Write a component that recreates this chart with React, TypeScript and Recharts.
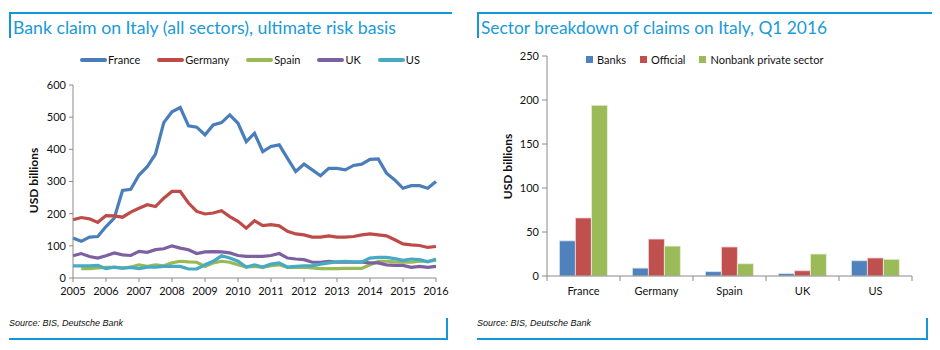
import { Bar, BarChart, Legend, Line, LineChart, XAxis, YAxis } from "recharts";

// quarterly, 2005 Q1 .. 2016 Q1
const years = [2005, 2006, 2007, 2008, 2009, 2010, 2011, 2012, 2013, 2014, 2015, 2016];
const quarters = years.flatMap((y) => (y === 2016 ? [`${y} Q1`] : [1, 2, 3, 4].map((q) => `${y} Q${q}`)));

const france = [
  124, 114, 127, 129, 160, 186, 272, 276, 320, 346, 385, 483, 517, 530, 473, 469,
  445, 476, 483, 507, 481, 424, 450, 393, 409, 414, 372, 331, 354, 336, 318, 341,
  341, 336, 350, 354, 369, 370, 326, 305, 279, 287, 287, 279, 300,
];
const germany = [
  181, 188, 184, 173, 194, 193, 189, 205, 217, 228, 222, 248, 269, 269, 233, 207,
  199, 202, 209, 191, 176, 155, 178, 163, 166, 162, 145, 137, 134, 127, 127, 131,
  127, 127, 129, 134, 137, 134, 131, 119, 106, 103, 101, 95, 98,
];
const spain = [
  null, 29, 29, 31, 33, 33, 31, 34, 41, 36, 41, 38, 47, 52, 50, 49,
  36, 47, 52, 49, 41, 34, 36, 33, 38, 41, 33, 33, 34, 31, 29, 29,
  29, 30, 30, 30, 41, 52, 52, 50, 49, 49, 52, 52, 55,
];
const uk = [
  69, 76, 67, 62, 69, 78, 72, 70, 83, 80, 88, 91, 100, 93, 88, 76,
  81, 82, 81, 78, 70, 67, 67, 67, 70, 76, 62, 59, 57, 49, 49, 52,
  49, 49, 49, 49, 47, 47, 41, 39, 39, 33, 36, 33, 36,
];
const us = [
  38, 38, 38, 39, 29, 34, 31, 33, 29, 34, 34, 36, 36, 36, 28, 28,
  41, 52, 69, 62, 52, 34, 41, 34, 43, 47, 34, 36, 38, 38, 43, 47,
  50, 52, 50, 50, 62, 64, 64, 60, 55, 59, 57, 50, 59,
];
const claimTicks = [0, 100, 200, 300, 400, 500, 600];

const countries = ["France", "Germany", "Spain", "UK", "US"];
const sectors = ["Banks", "Official", "Nonbank private sector"];
const banks = [40, 9, 5, 2.7, 17.4];
const official = [66, 42, 33, 6, 20.5];
const nonbank = [194, 34, 14, 25, 19];
const sectorTicks = [0, 50, 100, 150, 200, 250];

const lineData = quarters.map((q, i) => ({
  q,
  France: france[i],
  Germany: germany[i],
  Spain: spain[i],
  UK: uk[i],
  US: us[i],
}));

const barData = countries.map((c, i) => ({
  c,
  Banks: banks[i],
  Official: official[i],
  "Nonbank private sector": nonbank[i],
}));

const BLUE = "#1497d6";
const FONT = "Lato, 'Open Sans', sans-serif";
const tickStyle = { fontSize: 11, fill: "#111", fontFamily: FONT };
const axisGrey = "#8a8a8a";

function Frame({ left, width, title, titleWidth }: { left: number; width: number; title: string; titleWidth: number }) {
  return (
    <>
      <div style={{ position: "absolute", left, top: 12, width, height: 2, background: BLUE }} />
      <div style={{ position: "absolute", left, top: 12, width: 2, height: 26, background: BLUE }} />
      <svg style={{ position: "absolute", left: left + 4, top: 16, overflow: "visible" }} width={width - 10} height={24}>
        <text
          x={0}
          y={18}
          textLength={titleWidth}
          lengthAdjust="spacingAndGlyphs"
          fontSize={18}
          fontFamily={FONT}
          fill="#1a9ad8"
        >
          {title}
        </text>
      </svg>
      <div
        style={{
          position: "absolute",
          left,
          top: 318,
          fontSize: 9,
          fontStyle: "italic",
          fontFamily: "'Liberation Sans', Arial, sans-serif",
          color: "#111",
        }}
      >
        Source: BIS, Deutsche Bank
      </div>
      <div style={{ position: "absolute", left, top: 338, width: width - 4, height: 2, background: BLUE }} />
      <div style={{ position: "absolute", left: left + width - 6, top: 318, width: 2, height: 22, background: BLUE }} />
    </>
  );
}

function YLabel({ x, y }: { x: number; y: number }) {
  return (
    <div
      style={{
        position: "absolute",
        left: x - 40,
        top: y - 8,
        width: 80,
        textAlign: "center",
        transform: "rotate(-90deg)",
        fontSize: 12,
        fontWeight: 700,
        fontFamily: FONT,
        color: "#111",
      }}
    >
      USD billions
    </div>
  );
}

const lineLegend = (props: any) => (
  <div style={{ display: "flex", fontFamily: FONT, fontSize: 11, color: "#111" }}>
    {props.payload.map((p: any) => (
      <div key={p.value} style={{ display: "flex", alignItems: "center", marginRight: 17 }}>
        <span style={{ width: 27, height: 4, background: p.color, display: "inline-block", borderRadius: 2 }} />
        <span style={{ marginLeft: 1 }}>{p.value}</span>
      </div>
    ))}
  </div>
);

const barLegend = (props: any) => {
  const items = [...props.payload].sort((a: any, b: any) => sectors.indexOf(a.value) - sectors.indexOf(b.value));
  return (
    <div style={{ display: "flex", fontFamily: FONT, fontSize: 11, color: "#111" }}>
      {items.map((p: any) => (
        <div key={p.value} style={{ display: "flex", alignItems: "center", marginRight: 14 }}>
          <span style={{ width: 7, height: 7, background: p.color, display: "inline-block" }} />
          <span style={{ marginLeft: 4 }}>{p.value}</span>
        </div>
      ))}
    </div>
  );
};

// category label plus tick marks on the category boundaries
const CountryTick = (props: any) => {
  const { x, y, payload, index, visibleTicksCount } = props;
  const half = payload.offset ?? 0;
  const axisY = y - 10;
  return (
    <g>
      <line x1={x - half} x2={x - half} y1={axisY} y2={axisY + 5} stroke={axisGrey} />
      {index === visibleTicksCount - 1 && (
        <line x1={x + half} x2={x + half} y1={axisY} y2={axisY + 5} stroke={axisGrey} />
      )}
      <text x={x} y={y + 1} dy="0.71em" textAnchor="middle" fontSize={11} fontFamily={FONT} fill="#111">
        {payload.value}
      </text>
    </g>
  );
};

export default function App() {
  return (
    <div style={{ position: "absolute", left: 0, top: 0, width: 940, height: 350, background: "#fff" }}>
      <Frame left={9} width={443} titleWidth={383} title="Bank claim on Italy (all sectors), ultimate risk basis" />
      <Frame left={477} width={455} titleWidth={346} title="Sector breakdown of claims on Italy, Q1 2016" />

      <div style={{ position: "absolute", left: 0, top: 0 }}>
        <LineChart width={460} height={310} data={lineData} margin={{ top: 85, right: 24, bottom: 12, left: 13 }}>
          <XAxis
            dataKey="q"
            interval={3}
            tickFormatter={(v: string) => v.slice(0, 4)}
            tick={tickStyle}
            tickSize={4}
            tickMargin={5}
            height={20}
            stroke={axisGrey}
          />
          <YAxis
            domain={[0, 600]}
            ticks={claimTicks}
            tick={tickStyle}
            tickSize={4}
            tickMargin={3}
            width={60}
            stroke={axisGrey}
          />
          <Legend
            verticalAlign="middle"
            align="center"
            content={lineLegend}
            wrapperStyle={{ top: 53, left: 80, width: "auto" }}
          />
          <Line dataKey="France" stroke="#4a7ebb" strokeWidth={3.2} dot={false} isAnimationActive={false} />
          <Line dataKey="Germany" stroke="#be4b48" strokeWidth={3.2} dot={false} isAnimationActive={false} />
          <Line dataKey="Spain" stroke="#98b954" strokeWidth={3.2} dot={false} isAnimationActive={false} />
          <Line dataKey="UK" stroke="#7d60a0" strokeWidth={3.2} dot={false} isAnimationActive={false} />
          <Line dataKey="US" stroke="#46aac5" strokeWidth={3.2} dot={false} isAnimationActive={false} />
        </LineChart>
      </div>
      <YLabel x={33} y={181} />

      <div style={{ position: "absolute", left: 470, top: 0 }}>
        <BarChart
          width={460}
          height={310}
          data={barData}
          margin={{ top: 56, right: 18, bottom: 14, left: 17 }}
          barCategoryGap="17%"
          barGap={0}
        >
          <XAxis
            dataKey="c"
            tickLine={false}
            tick={<CountryTick />}
            tickSize={5}
            tickMargin={5}
            height={20}
            stroke={axisGrey}
          />
          <YAxis
            domain={[0, 250]}
            ticks={sectorTicks}
            tick={tickStyle}
            tickSize={5}
            tickMargin={3}
            width={60}
            stroke={axisGrey}
          />
          <Legend
            verticalAlign="middle"
            align="center"
            content={barLegend}
            wrapperStyle={{ top: 53, left: 116, width: "auto" }}
          />
          <Bar dataKey="Banks" fill="#4f81bd" stroke="#dce6f2" strokeWidth={0.8} isAnimationActive={false} />
          <Bar dataKey="Official" fill="#c0504d" stroke="#f2dcdb" strokeWidth={0.8} isAnimationActive={false} />
          <Bar
            dataKey="Nonbank private sector"
            fill="#9bbb59"
            stroke="#ebf1de"
            strokeWidth={0.8}
            isAnimationActive={false}
          />
        </BarChart>
      </div>
      <YLabel x={507} y={167} />
    </div>
  );
}
